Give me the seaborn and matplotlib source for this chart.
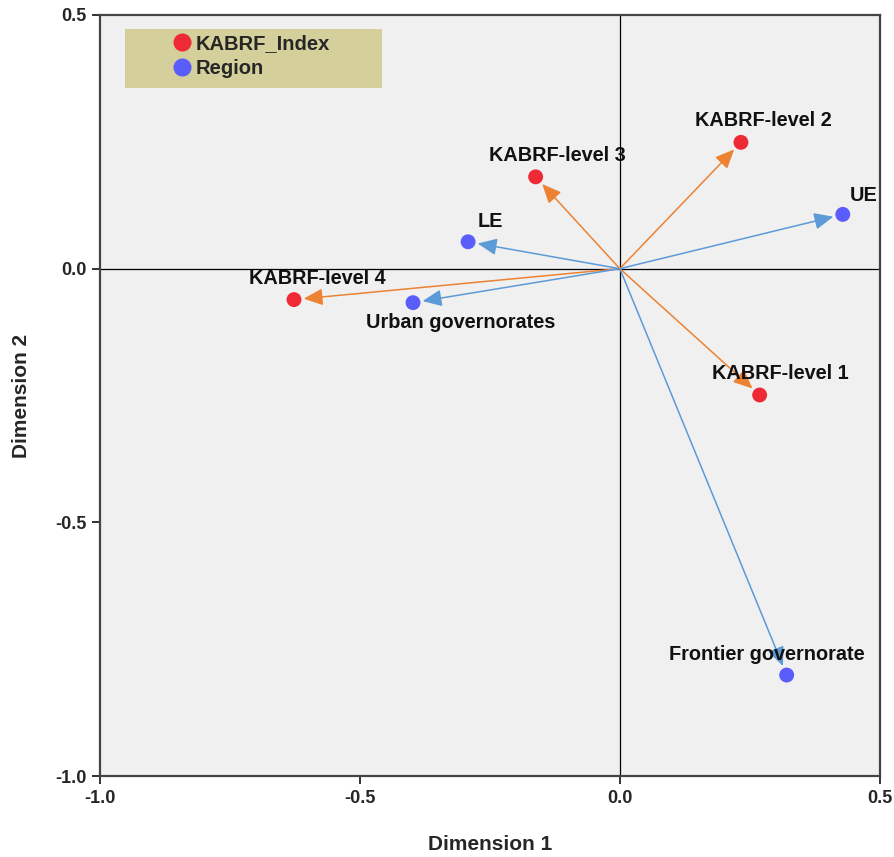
import matplotlib
matplotlib.use("Agg")
import matplotlib.pyplot as plt
import seaborn as sns
import pandas as pd
from matplotlib.lines import Line2D
from matplotlib.patches import Rectangle

# Category coordinates on the two dimensions
labels = ["KABRF-level 1", "KABRF-level 2", "KABRF-level 3", "KABRF-level 4",
          "UE", "LE", "Urban governorates", "Frontier governorate"]
groups = ["KABRF_Index"] * 4 + ["Region"] * 4
dim1 = [0.269, 0.233, -0.162, -0.627, 0.429, -0.292, -0.398, 0.321]
dim2 = [-0.249, 0.249, 0.181, -0.061, 0.107, 0.053, -0.067, -0.801]

# label offsets (pixels) relative to each point
label_dx = [21, 22, 22, 23, 21, 22, 48, -20]
label_dy = [21, 22, 21, 21, 19, 20, -20, 21]

df = pd.DataFrame({"label": labels, "group": groups, "dim1": dim1, "dim2": dim2})

point_colors = {"KABRF_Index": "#ee2a36", "Region": "#5a5cfb"}
arrow_colors = {"KABRF_Index": "#ec8232", "Region": "#5c9ad8"}

sns.set_style("white")
plt.rcParams["font.family"] = ["Liberation Sans", "DejaVu Sans"]

fig = plt.figure(figsize=(8.94, 8.57), dpi=100)
ax = fig.add_axes([0.112, 0.0945, 0.872, 0.888])
ax.set_facecolor("#f0f0f0")

ax.axhline(0, color="black", lw=0.9, zorder=1)
ax.axvline(0, color="black", lw=0.9, zorder=1)

for _, r in df.iterrows():
    ax.annotate("", xy=(r.dim1, r.dim2), xytext=(0, 0),
                arrowprops=dict(arrowstyle="-|>,head_length=0.75,head_width=0.33",
                                color=arrow_colors[r.group],
                                lw=1.1, mutation_scale=15.5, shrinkA=0, shrinkB=7),
                zorder=2)

sns.scatterplot(data=df, x="dim1", y="dim2", hue="group", palette=point_colors,
                s=115, edgecolor="none", legend=False, ax=ax, zorder=3)

for (_, r), dx, dy in zip(df.iterrows(), label_dx, label_dy):
    ax.annotate(r.label, (r.dim1, r.dim2), xytext=(dx, dy), textcoords="offset pixels",
                ha="center", va="center", fontsize=14.3, fontweight="bold", color="#111111",
                zorder=4)

ax.set_xlim(-1.0, 0.5)
ax.set_ylim(-1.0, 0.5)
ax.set_xticks([-1.0, -0.5, 0.0, 0.5])
ax.set_yticks([-1.0, -0.5, 0.0, 0.5])
ax.set_xticklabels(["-1.0", "-0.5", "0.0", "0.5"])
ax.set_yticklabels(["-1.0", "-0.5", "0.0", "0.5"])

for t in ax.get_xticklabels() + ax.get_yticklabels():
    t.set_fontweight("bold")
    t.set_fontsize(13)
ax.tick_params(axis="both", direction="out", length=6, width=1.4, color="#333333",
               bottom=True, left=True, pad=4)

ax.set_xlabel("Dimension 1", fontsize=15, fontweight="bold", labelpad=20)
ax.set_ylabel("Dimension 2", fontsize=15, fontweight="bold", labelpad=17)

for s in ax.spines.values():
    s.set_color("#444444")
    s.set_linewidth(1.6)

# legend panel
ax.add_patch(Rectangle((0.032, 0.904), 0.329, 0.0776, transform=ax.transAxes,
                       facecolor="#d4cf9b", edgecolor="none", zorder=5))
handles = [Line2D([], [], marker="o", ls="", color=point_colors[g], markersize=13,
                  markeredgewidth=0, label=g) for g in ["KABRF_Index", "Region"]]
leg = ax.legend(handles=handles, loc="upper left", bbox_to_anchor=(0.0924, 0.9755),
                frameon=False, handletextpad=0.15, labelspacing=0.32, borderpad=0.0,
                handlelength=1.0, borderaxespad=0.0,
                prop=dict(weight="bold", size=14.5))
leg.set_zorder(6)

fig.savefig("out.png", dpi=100, facecolor="white")
